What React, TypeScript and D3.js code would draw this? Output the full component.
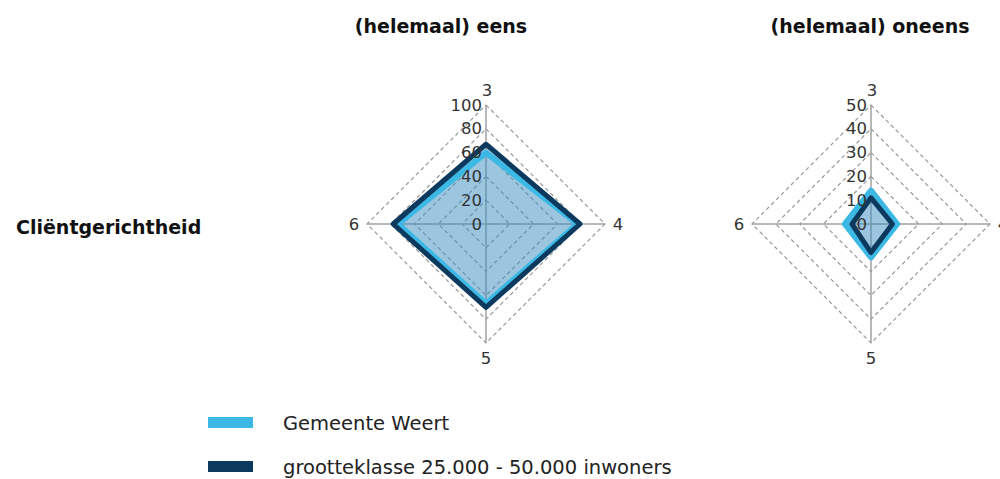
import React from "react";
import * as d3 from "d3";

const axes = ["3", "4", "5", "6"];
const seriesNames = ["Gemeente Weert", "grootteklasse 25.000 - 50.000 inwoners"];
const seriesColors = ["#3cb8e4", "#0c3a5e"];
const eensWeert = [60, 77, 67, 74];
const eensKlasse = [67, 79, 70, 78];
const oneensWeert = [14, 11, 14, 11];
const oneensKlasse = [11, 9, 12, 8];
const eensTicks = [0, 20, 40, 60, 80, 100];
const oneensTicks = [0, 10, 20, 30, 40, 50];

const FONT = "'DejaVu Sans', Verdana, sans-serif";

function Radar({ cx, cy, R, max, ticks, data }: { cx: number; cy: number; R: number; max: number; ticks: number[]; data: number[][] }) {
  const r = d3.scaleLinear().domain([0, max]).range([0, R]);
  const ang = (i: number) => (i / axes.length) * Math.PI * 2;
  const pt = (i: number, v: number): [number, number] => [cx + Math.sin(ang(i)) * r(v), cy - Math.cos(ang(i)) * r(v)];
  const poly = (vals: number[]) => {
    const line = d3.line<number>().x((v, i) => pt(i, v)[0]).y((v, i) => pt(i, v)[1]).curve(d3.curveLinearClosed);
    return line(vals) as string;
  };
  return (
    <g>
      {ticks.slice(1).map((t) => (
        <path key={"g" + t} d={poly(axes.map(() => t))} fill="none" stroke="#999" strokeWidth={1.2} strokeDasharray="4,3" />
      ))}
      {axes.map((a, i) => {
        const [x, y] = pt(i, max);
        return <line key={"a" + a} x1={cx} y1={cy} x2={x} y2={y} stroke="#a0a0a0" strokeWidth={1.5} />;
      })}
      {data.map((vals, k) => (
        <path key={"f" + k} d={poly(vals)} fill="#3f8fbf" fillOpacity={0.3} stroke="none" />
      ))}
      {data.map((vals, k) => (
        <path key={"s" + k} d={poly(vals)} fill="none" stroke={seriesColors[k]} strokeWidth={k === 0 ? 6 : 5} strokeLinejoin="round" />
      ))}
      {ticks.map((t) => (
        <text key={"t" + t} x={cx - 4} y={cy - r(t)} textAnchor="end" dominantBaseline="central" fontFamily={FONT} fontSize={16.5} fill="#333">
          {t}
        </text>
      ))}
      {axes.map((a, i) => {
        const horiz = i === 1 || i === 3;
        const x = horiz ? cx + Math.sin(ang(i)) * (R + 13) : cx + (i === 0 ? 1 : 0);
        const y = horiz ? cy : cy - Math.cos(ang(i)) * (R + 15);
        return (
          <text key={"l" + a} x={x} y={y} textAnchor="middle" dominantBaseline="central" fontFamily={FONT} fontSize={16.5} fill="#333">
            {a}
          </text>
        );
      })}
    </g>
  );
}

export default function App() {
  return (
    <svg width={1000} height={479} style={{ display: "block", position: "absolute", left: 0, top: 0 }}>
      <rect width={1000} height={479} fill="#fff" />
      <text x={441} y={26} textAnchor="middle" dominantBaseline="central" fontFamily={FONT} fontWeight="bold" fontSize={19} fill="#111">(helemaal) eens</text>
      <text x={870} y={26} textAnchor="middle" dominantBaseline="central" fontFamily={FONT} fontWeight="bold" fontSize={19} fill="#111">(helemaal) oneens</text>
      <text x={16} y={227} dominantBaseline="central" fontFamily={FONT} fontWeight="bold" fontSize={19} fill="#111">Cliëntgerichtheid</text>
      <Radar cx={486} cy={224} R={119} max={100} ticks={eensTicks} data={[eensWeert, eensKlasse]} />
      <Radar cx={871} cy={224} R={119} max={50} ticks={oneensTicks} data={[oneensWeert, oneensKlasse]} />
      {seriesNames.map((n, k) => (
        <g key={n}>
          <rect x={208} y={k === 0 ? 417 : 461} width={45} height={11} fill={seriesColors[k]} />
          <text x={283} y={k === 0 ? 423 : 467} dominantBaseline="central" fontFamily={FONT} fontSize={19.5} fill="#222">{n}</text>
        </g>
      ))}
    </svg>
  );
}
